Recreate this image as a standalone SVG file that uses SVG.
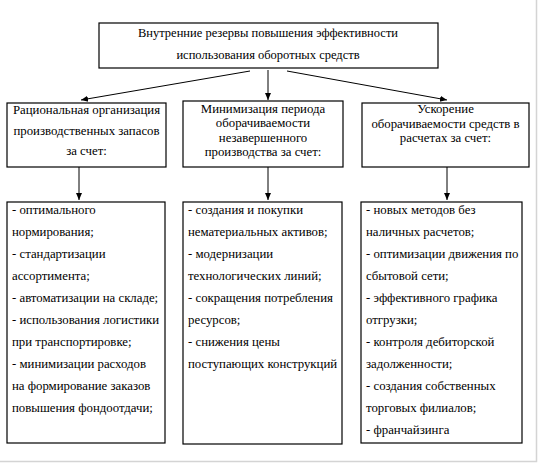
<svg xmlns="http://www.w3.org/2000/svg" width="538" height="465" viewBox="0 0 538 465">
<defs>
<marker id="ah" markerWidth="8" markerHeight="8" refX="7" refY="4" orient="auto" markerUnits="userSpaceOnUse">
<path d="M0,1 L7,4 L0,7 Z" fill="#000"/>
</marker>
<style>
.box{fill:#fff;stroke:#000;stroke-width:1.2}
.t{font-family:'Liberation Serif','Times New Roman',serif;font-size:12.8px;fill:#000}
.c{text-anchor:middle}
.ln{stroke:#000;stroke-width:1;fill:none;marker-end:url(#ah)}
.fr{stroke:#d4d4d4;stroke-width:1.5;fill:none}
</style>
</defs>
<rect width="538" height="465" fill="#fff"/>
<path class="fr" d="M536.5,0 V461.5 H0"/>
<g id="top">
<rect class="box" x="99" y="23" width="339" height="45"/>
<text class="t c" x="268" y="37" style="font-size:12.5px">Внутренние резервы повышения эффективности</text>
<text class="t c" x="268" y="58.5" style="font-size:12.5px">использования оборотных средств</text>
</g>
<g id="h1">
<rect class="box" x="7" y="103" width="159" height="64"/>
<text class="t c" x="86.5" y="114">Рациональная организация</text>
<text class="t c" x="86.5" y="134.5">производственных запасов</text>
<text class="t c" x="86.5" y="155">за счет:</text>
</g>
<g id="h2">
<rect class="box" x="183" y="101" width="160" height="66"/>
<text class="t c" x="263" y="112.5">Минимизация периода</text>
<text class="t c" x="263" y="127">оборачиваемости</text>
<text class="t c" x="263" y="141.5">незавершенного</text>
<text class="t c" x="263" y="156">производства за счет:</text>
</g>
<g id="h3">
<rect class="box" x="362" y="103" width="167" height="64"/>
<text class="t c" x="445.5" y="112.5">Ускорение</text>
<text class="t c" x="445.5" y="127.5">оборачиваемости средств в</text>
<text class="t c" x="445.5" y="142">расчетах за счет:</text>
</g>
<g id="l1">
<rect class="box" x="7" y="202" width="158" height="241"/>
<text class="t" x="12" y="214">- оптимального</text>
<text class="t" x="12" y="236">нормирования;</text>
<text class="t" x="12" y="258">- стандартизации</text>
<text class="t" x="12" y="280">ассортимента;</text>
<text class="t" x="12" y="302">- автоматизации на складе;</text>
<text class="t" x="12" y="324">- использования логистики</text>
<text class="t" x="12" y="346">при транспортировке;</text>
<text class="t" x="12" y="368">- минимизации расходов</text>
<text class="t" x="12" y="390">на формирование заказов</text>
<text class="t" x="12" y="412">повышения фондоотдачи;</text>
</g>
<g id="l2">
<rect class="box" x="183" y="202" width="159" height="242"/>
<text class="t" x="188" y="214">- создания и покупки</text>
<text class="t" x="188" y="236">нематериальных активов;</text>
<text class="t" x="188" y="258">- модернизации</text>
<text class="t" x="188" y="280">технологических линий;</text>
<text class="t" x="188" y="302">- сокращения потребления</text>
<text class="t" x="188" y="324">ресурсов;</text>
<text class="t" x="188" y="346">- снижения цены</text>
<text class="t" x="188" y="368">поступающих конструкций</text>
</g>
<g id="l3">
<rect class="box" x="361" y="202" width="161" height="241"/>
<text class="t" x="366" y="214">- новых методов без</text>
<text class="t" x="366" y="236">наличных расчетов;</text>
<text class="t" x="366" y="258">- оптимизации движения по</text>
<text class="t" x="366" y="280">сбытовой сети;</text>
<text class="t" x="366" y="302">- эффективного графика</text>
<text class="t" x="366" y="324">отгрузки;</text>
<text class="t" x="366" y="346">- контроля дебиторской</text>
<text class="t" x="366" y="368">задолженности;</text>
<text class="t" x="366" y="390">- создания собственных</text>
<text class="t" x="366" y="412">торговых филиалов;</text>
<text class="t" x="366" y="434">- франчайзинга</text>
</g>
<g id="connectors">
<line class="ln" x1="250" y1="71" x2="81" y2="100"/>
<line class="ln" x1="268" y1="70" x2="268" y2="100"/>
<line class="ln" x1="287" y1="71" x2="447" y2="100"/>
<line class="ln" x1="79" y1="167" x2="79" y2="200"/>
<line class="ln" x1="268" y1="167" x2="268" y2="200"/>
<line class="ln" x1="447" y1="167" x2="447" y2="200"/>
</g>
</svg>
